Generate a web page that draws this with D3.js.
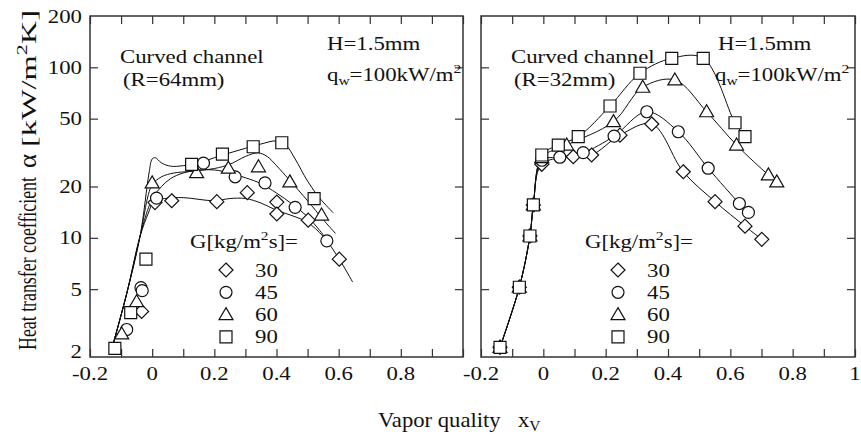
<!DOCTYPE html>
<html>
<head>
<meta charset="utf-8">
<script src="https://cdn.jsdelivr.net/npm/d3@7"></script>
<style>
  body { margin: 0; background: #fff; }
  svg text { font-family: "Liberation Serif", "Times New Roman", serif; fill: #111; }
</style>
</head>
<body>
<svg id="chart" width="861" height="434"></svg>
<script>
// ---- data ----
const gLevels = ["30", "45", "60", "90"];
const xTicksLeft = [-0.2, 0, 0.2, 0.4, 0.6, 0.8];
const xTicksRight = [-0.2, 0, 0.2, 0.4, 0.6, 0.8, 1];
const yTickLabels = [2, 5, 10, 20, 50, 100, 200];

// left panel, R=64mm : measured points
const xL30 = [-0.034, 0.009, 0.063, 0.208, 0.306, 0.401, 0.401, 0.502, 0.602];
const yL30 = [3.7, 16.1, 16.5, 16.3, 18.4, 16.2, 13.8, 12.7, 7.5];
const xL45 = [-0.082, -0.036, -0.032, 0.014, 0.165, 0.267, 0.363, 0.46, 0.562];
const yL45 = [2.9, 5.1, 4.9, 17.1, 27.4, 22.8, 21, 15.1, 9.6];
const xL60 = [-0.098, -0.05, 0.0, 0.143, 0.245, 0.342, 0.443, 0.545];
const yL60 = [2.73, 4.22, 21, 24.1, 25.6, 26.1, 21.3, 13.6];
const xL90 = [-0.12, -0.069, -0.02, 0.127, 0.226, 0.325, 0.417, 0.521];
const yL90 = [2.25, 3.64, 7.5, 27.0, 31.0, 34.2, 36.1, 17.0];

// left panel : fitted curves (traced)
const fitX30 = [-0.125, -0.082, -0.039, -0.012, 0.005, 0.04, 0.1, 0.2, 0.25, 0.3, 0.35, 0.4, 0.45, 0.5, 0.55, 0.6, 0.645];
const fitY30 = [2.4, 4.7, 10.2, 14, 16.3, 17, 17.2, 16.5, 17, 17, 16, 14.5, 13.5, 12.3, 10.2, 7.6, 5.5];
const fitX45 = [-0.125, -0.082, -0.039, -0.012, 0.005, 0.03, 0.06, 0.1, 0.15, 0.2, 0.25, 0.3, 0.35, 0.4, 0.45, 0.5, 0.54, 0.57];
const fitY45 = [2.4, 4.7, 10.2, 15, 17.5, 20, 22.3, 24, 25, 25, 24, 22.5, 20.8, 18.3, 15.8, 13.3, 11, 9.3];
const fitX60 = [-0.125, -0.082, -0.039, -0.012, 0.0, 0.03, 0.07, 0.12, 0.2, 0.25, 0.3, 0.34, 0.37, 0.4, 0.44, 0.5, 0.55, 0.59];
const fitY60 = [2.4, 4.7, 10.2, 18, 20.5, 22.8, 24, 24.5, 25.5, 27, 30, 31.5, 30, 26.5, 22, 16.5, 12.8, 10.6];
const fitX90 = [-0.125, -0.082, -0.039, -0.01, 0.0, 0.01, 0.03, 0.06, 0.1, 0.15, 0.2, 0.25, 0.3, 0.35, 0.4, 0.43, 0.46, 0.5, 0.54, 0.583];
const fitY90 = [2.4, 4.7, 10.2, 24, 29, 29.5, 27.5, 26.3, 26.5, 27.5, 29.5, 31.5, 33.5, 35.5, 37, 35, 29, 21.5, 17, 14];

// right panel, R=32mm : measured points (lines join them)
const xR30 = [-0.139, -0.077, -0.043, -0.032, -0.005, 0.096, 0.155, 0.246, 0.348, 0.449, 0.551, 0.647, 0.701];
const yR30 = [2.28, 5.13, 10.25, 15.6, 27, 29.9, 30.6, 40, 46.5, 24.4, 16.3, 11.7, 9.8];
const xR45 = [-0.139, -0.077, -0.043, -0.032, -0.005, 0.053, 0.128, 0.227, 0.332, 0.433, 0.529, 0.629, 0.658];
const yR45 = [2.28, 5.13, 10.25, 15.6, 28.5, 29.7, 31.6, 39.5, 54.9, 41.9, 25.6, 15.9, 14.1];
const xR60 = [-0.139, -0.077, -0.043, -0.032, -0.005, 0.075, 0.225, 0.319, 0.422, 0.524, 0.62, 0.722, 0.749];
const yR60 = [2.28, 5.13, 10.25, 15.6, 29.5, 35, 48, 76.4, 84.3, 54.9, 35, 23.4, 21.3];
const xR90 = [-0.139, -0.077, -0.043, -0.032, -0.005, 0.048, 0.112, 0.214, 0.31, 0.412, 0.513, 0.615, 0.647];
const yR90 = [2.28, 5.13, 10.25, 15.6, 30.6, 35, 39.2, 59.3, 92.3, 113, 113, 47.3, 39.2];

const zip = (xs, ys) => xs.map((x, i) => [x, ys[i]]);

const svg = d3.select("#chart");
const FS = 19, STRETCH = 1.2;

// text helper: scanned figure is stretched horizontally, so scale glyphs in x
function txt(parent, x, y, segs, opts = {}) {
  const size = opts.size || FS;
  const t = parent.append("text")
    .attr("transform", `translate(${x},${y}) scale(${opts.stretch || STRETCH},1)`)
    .attr("font-size", size)
    .attr("text-anchor", opts.anchor || "start");
  if (typeof segs === "string") segs = [{ t: segs }];
  segs.forEach(s => {
    const sp = t.append("tspan").text(s.t);
    if (s.sub) sp.attr("font-size", size * 0.68).attr("dy", 4);
    else if (s.sup) sp.attr("font-size", size * 0.68).attr("dy", -8);
    else if (s.back) sp.attr("dy", s.back);
  });
  return t;
}

const yScale = d3.scaleLog().domain([2, 200]).range([357, 16]);

const markers = {
  "30": "M0,-7L7,0L0,7L-7,0Z",
  "45": (() => { const p = d3.path(); p.arc(0, 0, 6, 0, 2 * Math.PI); return p.toString(); })(),
  "60": "M0,-7L7,5L-7,5Z",
  "90": "M-6,-6H6V6H-6Z"
};

function panel(x0, x1, opts) {
  const xScale = d3.scaleLinear().domain([-0.2, 1]).range([x0, x1]);
  const g = svg.append("g");

  // ticks (inside)
  const tv = d3.range(-0.2, 1.0001, 0.1);
  g.append("g").attr("transform", "translate(0,357)")
    .call(d3.axisBottom(xScale).tickValues(tv).tickSize(-8).tickFormat(""));
  g.append("g").attr("transform", "translate(0,16)")
    .call(d3.axisTop(xScale).tickValues(tv).tickSize(-8).tickFormat(""));
  g.append("g").attr("transform", `translate(${x0},0)`)
    .call(d3.axisLeft(yScale).tickValues([5, 10, 20, 50, 100]).tickSize(-8).tickFormat(""));
  g.append("g").attr("transform", `translate(${x1},0)`)
    .call(d3.axisRight(yScale).tickValues([5, 10, 20, 50, 100]).tickSize(-8).tickFormat(""));
  g.selectAll(".domain").remove();
  g.selectAll(".tick line").attr("stroke", "#333").attr("stroke-width", 1.2);
  g.append("rect").attr("x", x0).attr("y", 16).attr("width", x1 - x0).attr("height", 341)
    .attr("fill", "none").attr("stroke", "#333").attr("stroke-width", 1.5);

  // x tick labels
  opts.xTicks.forEach(v => {
    txt(g, xScale(v), 380, v === 1 ? "1" : String(v), { anchor: "middle" });
  });

  const line = d3.line().x(d => xScale(d[0])).y(d => yScale(d[1])).curve(d3.curveCatmullRom.alpha(0.5));
  opts.curves.forEach(c => {
    g.append("path").attr("d", line(c)).attr("fill", "none").attr("stroke", "#111").attr("stroke-width", 1);
  });

  opts.series.forEach((pts, i) => {
    g.append("g").selectAll("path").data(pts).join("path")
      .attr("transform", d => `translate(${xScale(d[0])},${yScale(d[1])})`)
      .attr("d", markers[gLevels[i]])
      .attr("fill", "#fff").attr("stroke", "#111").attr("stroke-width", 1.2);
  });

  // annotations
  txt(g, opts.cc[0], 63, "Curved channel");
  txt(g, opts.cc[0] + 3, 86, opts.rLabel);
  txt(g, opts.h[0], 50, "H=1.5mm");
  txt(g, opts.h[1], 81, [{ t: "q" }, { t: "w", sub: true }, { t: "=100kW/m", back: -4 }, { t: "2", sup: true }]);

  // legend
  txt(g, opts.leg[0], 248, [{ t: "G[kg/m" }, { t: "2", sup: true }, { t: "s]=", back: 8 }]);
  gLevels.forEach((lv, i) => {
    const cy = 270 + i * 22.3;
    g.append("path").attr("transform", `translate(${opts.leg[1]},${cy})`).attr("d", markers[lv])
      .attr("fill", "#fff").attr("stroke", "#111").attr("stroke-width", 1.2);
    txt(g, opts.leg[2], cy + 6.5, lv);
  });
  return g;
}

panel(90, 463, {
  xTicks: xTicksLeft,
  curves: [zip(fitX30, fitY30), zip(fitX45, fitY45), zip(fitX60, fitY60), zip(fitX90, fitY90)],
  series: [zip(xL30, yL30), zip(xL45, yL45), zip(xL60, yL60), zip(xL90, yL90)],
  cc: [120], rLabel: "(R=64mm)", h: [327, 327], leg: [190, 226, 255]
});

const rightSeries = [zip(xR30, yR30), zip(xR45, yR45), zip(xR60, yR60), zip(xR90, yR90)];
panel(481, 855, {
  xTicks: xTicksRight,
  curves: rightSeries,
  series: rightSeries,
  cc: [511], rLabel: "(R=32mm)", h: [718, 715], leg: [585, 618, 647]
});

// y tick labels (left panel only)
yTickLabels.forEach(v => {
  const y = v === 2 ? 351 : yScale(v);
  txt(svg, 82, y + 6.5, String(v), { anchor: "end" });
});

// y axis title (rotated)
function vtxt(x, yStart, yEnd, segs, size, weight) {
  const t = svg.append("text")
    .attr("transform", `translate(${x},${yStart}) scale(1.15,1) rotate(-90)`)
    .attr("font-size", size)
    .attr("font-weight", weight || "normal")
    .attr("textLength", yStart - yEnd)
    .attr("lengthAdjust", "spacingAndGlyphs");
  segs.forEach(s => {
    const sp = t.append("tspan").text(s.t);
    if (s.sup) sp.attr("font-size", size * 0.68).attr("dy", -8);
    else if (s.back) sp.attr("dy", s.back);
  });
}
vtxt(36, 350, 177, [{ t: "Heat transfer coefficient" }], 21);
vtxt(36, 168, 154, [{ t: "α" }], 21);
vtxt(36, 147, 10, [{ t: "[kW/m" }, { t: "2", sup: true }, { t: "K]", back: 8 }], 19);

// x axis title
txt(svg, 378, 427, "Vapor quality", { size: 22, stretch: 1.03 });
txt(svg, 518, 427, [{ t: "x" }, { t: "V", sub: true }], { size: 22, stretch: 1.03 });
</script>
</body>
</html>
